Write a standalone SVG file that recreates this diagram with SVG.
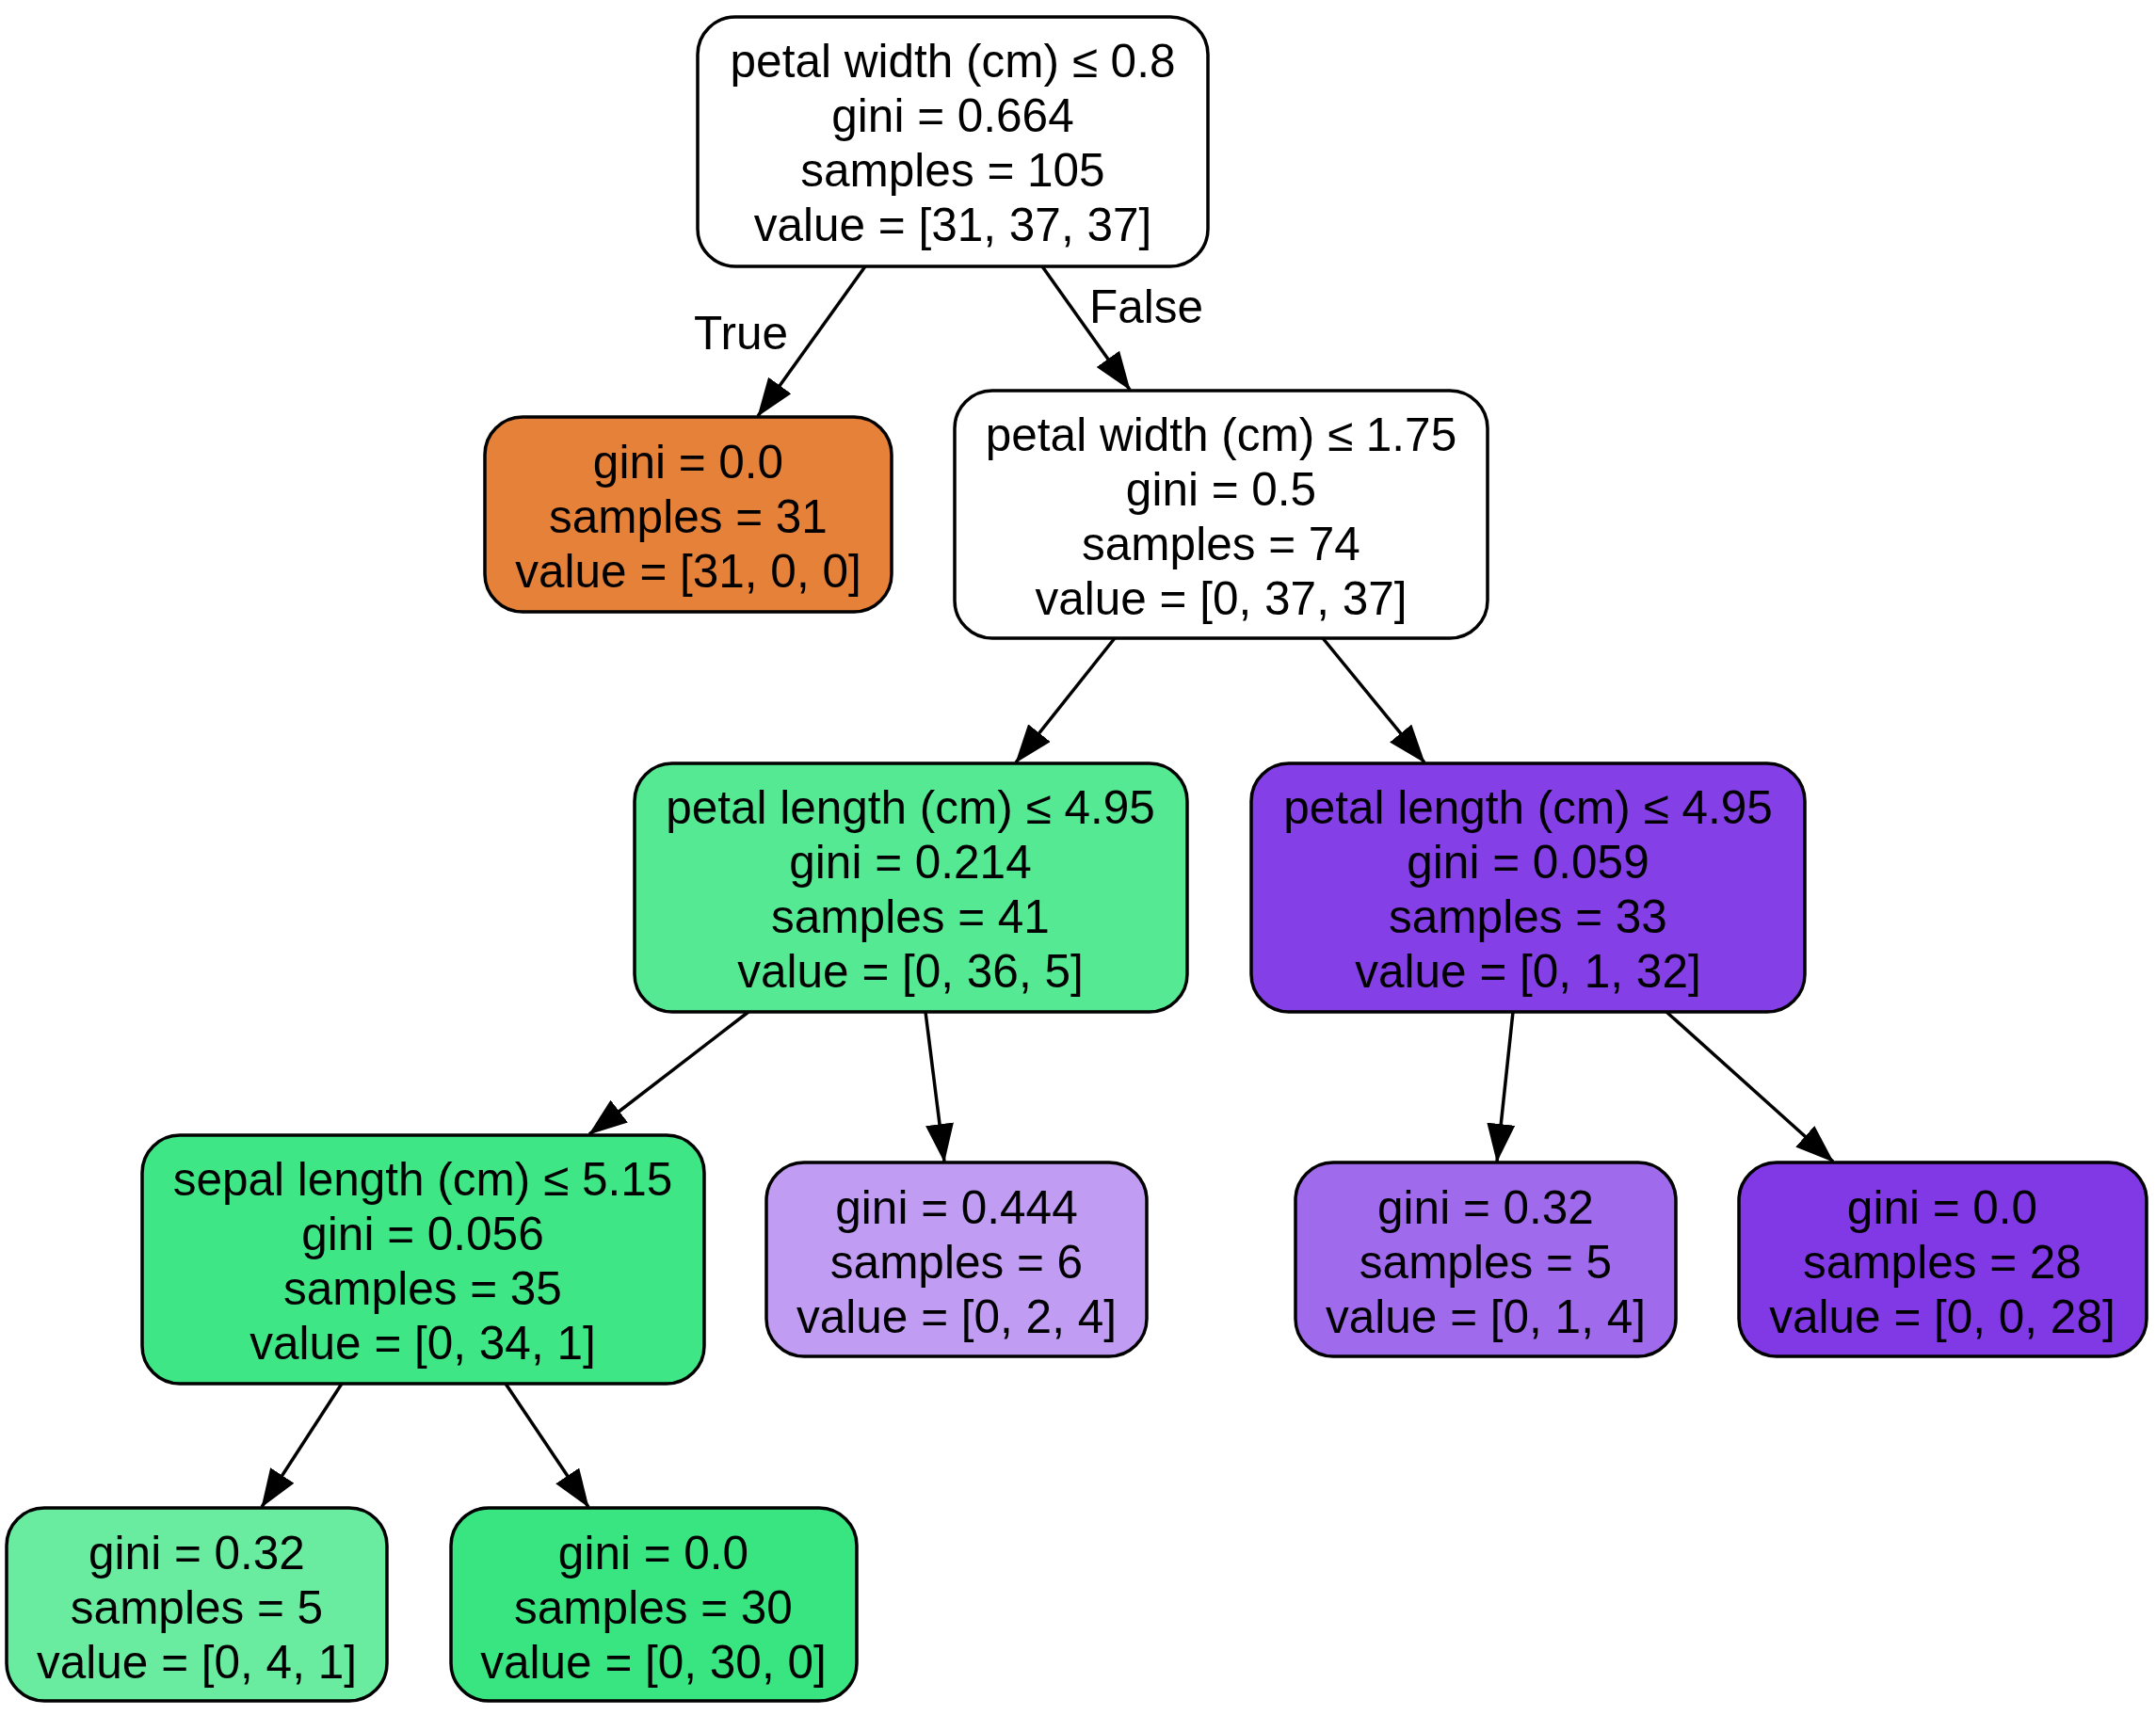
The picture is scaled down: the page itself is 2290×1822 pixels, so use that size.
<svg xmlns="http://www.w3.org/2000/svg" width="2290" height="1822" viewBox="0 0 2290 1822">
<style>
.n{stroke:#000;stroke-width:3.5}
text{font-family:"Liberation Sans",Arial,Helvetica,sans-serif;font-size:49.5px;fill:#000;text-anchor:middle}
.e{stroke:#000;stroke-width:3.5;fill:none;marker-end:url(#ah)}
.lbl{text-anchor:start}
</style>
<defs>
<marker id="ah" markerUnits="userSpaceOnUse" viewBox="0 0 41 30" markerWidth="41" markerHeight="30" refX="40" refY="15" orient="auto">
<path d="M0,0 L41,15 L0,30 z" fill="#000"/>
</marker>
</defs>
<rect width="2290" height="1822" fill="#fff"/>
<g id="edges">
<path class="e" d="M919,283 L805,442"/>
<path class="e" d="M1107,283 L1200,414"/>
<path class="e" d="M1184,678 L1079,810"/>
<path class="e" d="M1405,678 L1513,810"/>
<path class="e" d="M795,1075 L626,1205"/>
<path class="e" d="M983,1075 L1003,1234"/>
<path class="e" d="M1607,1075 L1590,1234"/>
<path class="e" d="M1770,1075 L1947,1234"/>
<path class="e" d="M363,1470 L278,1601"/>
<path class="e" d="M537,1470 L625,1601"/>
<text class="lbl" x="737" y="371">True</text>
<text class="lbl" x="1157" y="343">False</text>
</g>
<g id="node0">
<rect class="n" x="741" y="18" width="542" height="265" rx="40" ry="40" fill="#ffffff"/>
<text x="1012" y="82">petal width (cm) ≤ 0.8</text>
<text x="1012" y="140">gini = 0.664</text>
<text x="1012" y="198">samples = 105</text>
<text x="1012" y="256">value = [31, 37, 37]</text>
</g>
<g id="node1">
<rect class="n" x="515" y="443" width="432" height="207" rx="40" ry="40" fill="#e58139"/>
<text x="731" y="508">gini = 0.0</text>
<text x="731" y="566">samples = 31</text>
<text x="731" y="624">value = [31, 0, 0]</text>
</g>
<g id="node2">
<rect class="n" x="1014" y="415" width="566" height="263" rx="40" ry="40" fill="#ffffff"/>
<text x="1297" y="479">petal width (cm) ≤ 1.75</text>
<text x="1297" y="537">gini = 0.5</text>
<text x="1297" y="595">samples = 74</text>
<text x="1297" y="653">value = [0, 37, 37]</text>
</g>
<g id="node3">
<rect class="n" x="674" y="811" width="587" height="264" rx="40" ry="40" fill="#55e993"/>
<text x="967" y="875">petal length (cm) ≤ 4.95</text>
<text x="967" y="933">gini = 0.214</text>
<text x="967" y="991">samples = 41</text>
<text x="967" y="1049">value = [0, 36, 5]</text>
</g>
<g id="node4">
<rect class="n" x="1329" y="811" width="588" height="264" rx="40" ry="40" fill="#853fe6"/>
<text x="1623" y="875">petal length (cm) ≤ 4.95</text>
<text x="1623" y="933">gini = 0.059</text>
<text x="1623" y="991">samples = 33</text>
<text x="1623" y="1049">value = [0, 1, 32]</text>
</g>
<g id="node5">
<rect class="n" x="151" y="1206" width="597" height="264" rx="40" ry="40" fill="#3fe685"/>
<text x="449" y="1270">sepal length (cm) ≤ 5.15</text>
<text x="449" y="1328">gini = 0.056</text>
<text x="449" y="1386">samples = 35</text>
<text x="449" y="1444">value = [0, 34, 1]</text>
</g>
<g id="node6">
<rect class="n" x="814" y="1235" width="404" height="206" rx="40" ry="40" fill="#c09cf2"/>
<text x="1016" y="1300">gini = 0.444</text>
<text x="1016" y="1358">samples = 6</text>
<text x="1016" y="1416">value = [0, 2, 4]</text>
</g>
<g id="node7">
<rect class="n" x="1376" y="1235" width="404" height="206" rx="40" ry="40" fill="#a06aec"/>
<text x="1578" y="1300">gini = 0.32</text>
<text x="1578" y="1358">samples = 5</text>
<text x="1578" y="1416">value = [0, 1, 4]</text>
</g>
<g id="node8">
<rect class="n" x="1847" y="1235" width="433" height="206" rx="40" ry="40" fill="#8139e5"/>
<text x="2063" y="1300">gini = 0.0</text>
<text x="2063" y="1358">samples = 28</text>
<text x="2063" y="1416">value = [0, 0, 28]</text>
</g>
<g id="node9">
<rect class="n" x="7" y="1602" width="404" height="205" rx="40" ry="40" fill="#6aeca0"/>
<text x="209" y="1667">gini = 0.32</text>
<text x="209" y="1725">samples = 5</text>
<text x="209" y="1783">value = [0, 4, 1]</text>
</g>
<g id="node10">
<rect class="n" x="479" y="1602" width="431" height="205" rx="40" ry="40" fill="#39e581"/>
<text x="694" y="1667">gini = 0.0</text>
<text x="694" y="1725">samples = 30</text>
<text x="694" y="1783">value = [0, 30, 0]</text>
</g>
</svg>
